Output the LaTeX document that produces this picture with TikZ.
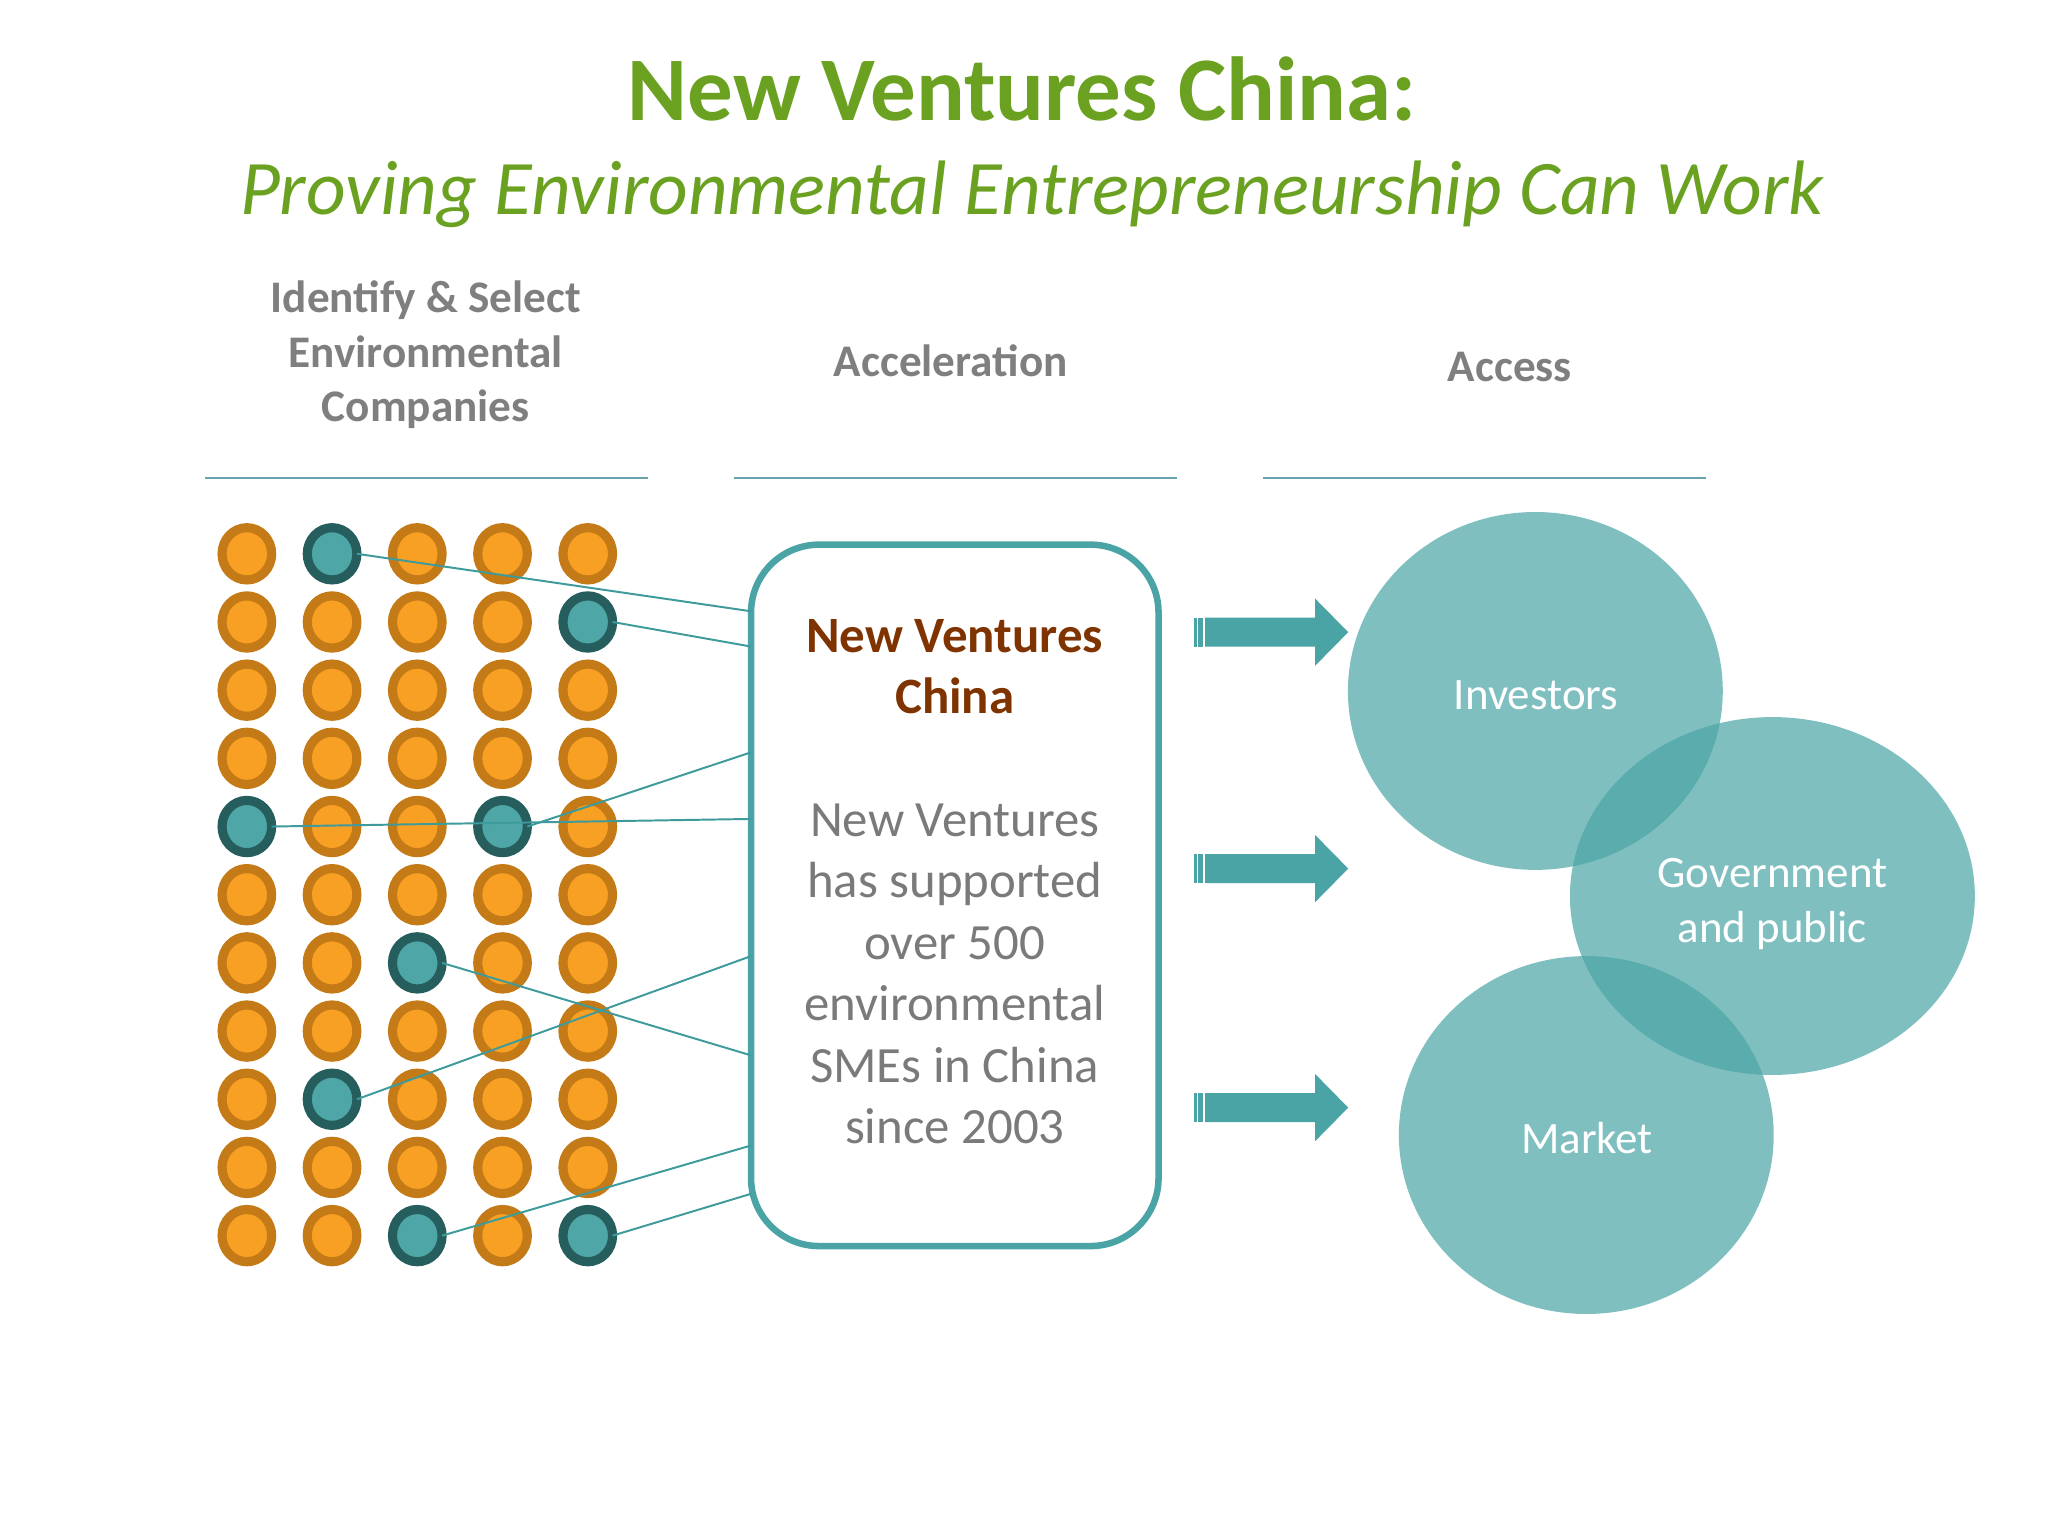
\documentclass[tikz,border=0pt]{standalone}
\usepackage{fontspec}
\setmainfont{Carlito}
\usetikzlibrary{shapes.geometric}
\definecolor{titlegreen}{HTML}{6AA121}
\definecolor{hgray}{HTML}{7F7F7F}
\definecolor{bgray}{HTML}{7A7A7A}
\definecolor{nvbrown}{HTML}{7F3300}
\definecolor{nvteal}{HTML}{4AA4A5}
\definecolor{connteal}{HTML}{3E9A9B}
\definecolor{ruleteal}{HTML}{6AA3AE}
\definecolor{ringorange}{HTML}{C47A16}
\definecolor{fillorange}{HTML}{F7A023}
\definecolor{ringteal}{HTML}{265E5E}
\definecolor{filltealdot}{HTML}{4FA6A6}
\definecolor{bubble}{RGB}{75,165,166}
\makeatletter
\newif\ifdotteal
\newcommand\checkdot[1]{\edef\dot@tmp{,#1,}\expandafter\in@\expandafter{\dot@tmp}{,1-2,2-5,5-1,5-4,7-3,9-2,11-3,11-5,}\ifin@\dottealtrue\else\dottealfalse\fi}
\makeatother
\begin{document}
\begin{tikzpicture}[x=1pt,y=-1pt,
  orangedot/.style={ellipse, draw=ringorange, fill=fillorange, line width=7pt, inner sep=0pt, outer sep=0pt, minimum width=38pt, minimum height=40pt},
  tealdot/.style={orangedot, draw=ringteal, fill=filltealdot},
  conn/.style={draw=connteal, line width=1.5pt},
  hrule/.style={draw=ruleteal, line width=2pt},
  header/.style={font=\bfseries\fontsize{34.6}{42}\selectfont, text=hgray, align=center, inner sep=0pt, anchor=base},
  bubblenode/.style={ellipse, fill=bubble, fill opacity=0.7, inner sep=0pt},
  bubblelabel/.style={text=white, inner sep=0pt, align=center, anchor=base, font=\fontsize{34.4}{42}\selectfont},
  bigarrow/.style={fill=nvteal}
]
\useasboundingbox[fill=white] (0,0) rectangle (1568,1176);
% titles
\node[font=\bfseries\fontsize{69.6}{80}\selectfont, text=titlegreen, inner sep=0pt, anchor=base] (title) at (782.5,92) {New Ventures China:};
\node[font=\itshape\fontsize{59.1}{68}\selectfont, text=titlegreen, inner sep=0pt, anchor=base] (subtitle) at (790,164) {Proving Environmental Entrepreneurship Can Work};
% headers (base anchor = last line)
\node[header] (h1) at (326,323) {Identify \& Select\\Environmental\\Companies};
\node[header] (h2) at (728,288) {Acceleration};
\node[header] (h3) at (1156,292) {Access};
\draw[hrule] (157,366) -- (496,366);
\draw[hrule] (562,366) -- (901,366);
\draw[hrule] (967,366) -- (1306,366);
% dots
\foreach \r in {1,...,11} {
  \foreach \c in {1,...,5} {
    \checkdot{\r-\c}
    \ifdotteal
      \node[tealdot] (d\r-\c) at ({189+(\c-1)*65.25},{424+(\r-1)*52.2}) {};
    \else
      \node[orangedot] (d\r-\c) at ({189+(\c-1)*65.25},{424+(\r-1)*52.2}) {};
    \fi
  }
}
% central box
\node[draw=nvteal, line width=5pt, rounded corners=52pt, minimum width=312pt, minimum height=537pt, inner sep=0pt, outer sep=0pt, fill=white] (box) at (731,685.5) {};
\node[font=\bfseries\fontsize{39}{47}\selectfont, text=nvbrown, align=center, inner sep=0pt, anchor=base] (boxtitle) at (731,546.5) {New Ventures\\China};
\node[font=\fontsize{38.9}{47}\selectfont, text=bgray, align=center, inner sep=0pt, anchor=base] (boxbody) at (731,875.5) {New Ventures\\has supported\\over 500\\environmental\\SMEs in China\\since 2003};
% connectors
\draw[conn] (d1-2.east) -- (box.west |- 0,468);
\draw[conn] (d2-5.east) -- (box.west |- 0,495);
\draw[conn] (d5-4.east) -- (box.west |- 0,576);
\draw[conn] (d5-1.east) -- (box.west |- 0,627);
\draw[conn] (d7-3.east) -- (box.west |- 0,808);
\draw[conn] (d9-2.east) -- (box.west |- 0,732);
\draw[conn] (d11-3.east) -- (box.west |- 0,877);
\draw[conn] (d11-5.east) -- (box.west |- 0,914);
% arrows
\foreach \y in {484,665,848} {
  \fill[bigarrow] (914.2,\y-11.1) rectangle (916.5,\y+11.1);
  \fill[bigarrow] (917.4,\y-11.1) rectangle (921.1,\y+11.1);
  \fill[bigarrow] (922.6,\y-11.1) -- (1006.9,\y-11.1) -- (1006.9,\y-25.7) -- (1032.2,\y) -- (1006.9,\y+25.7) -- (1006.9,\y+11.1) -- (922.6,\y+11.1) -- cycle;
}
% bubbles
\node[bubblenode, minimum width=287pt, minimum height=274pt] (inv) at (1175.5,529) {};
\node[bubblenode, minimum width=310pt, minimum height=274pt] (gov) at (1357,686) {};
\node[bubblenode, minimum width=287pt, minimum height=274pt] (mkt) at (1214.5,869) {};
\node[bubblelabel] (invlabel) at (1176,543.5) {Investors};
\node[bubblelabel] (govlabel) at (1357,721.5) {Government\\and public};
\node[bubblelabel] (mktlabel) at (1215,883.5) {Market};
\end{tikzpicture}
\end{document}
